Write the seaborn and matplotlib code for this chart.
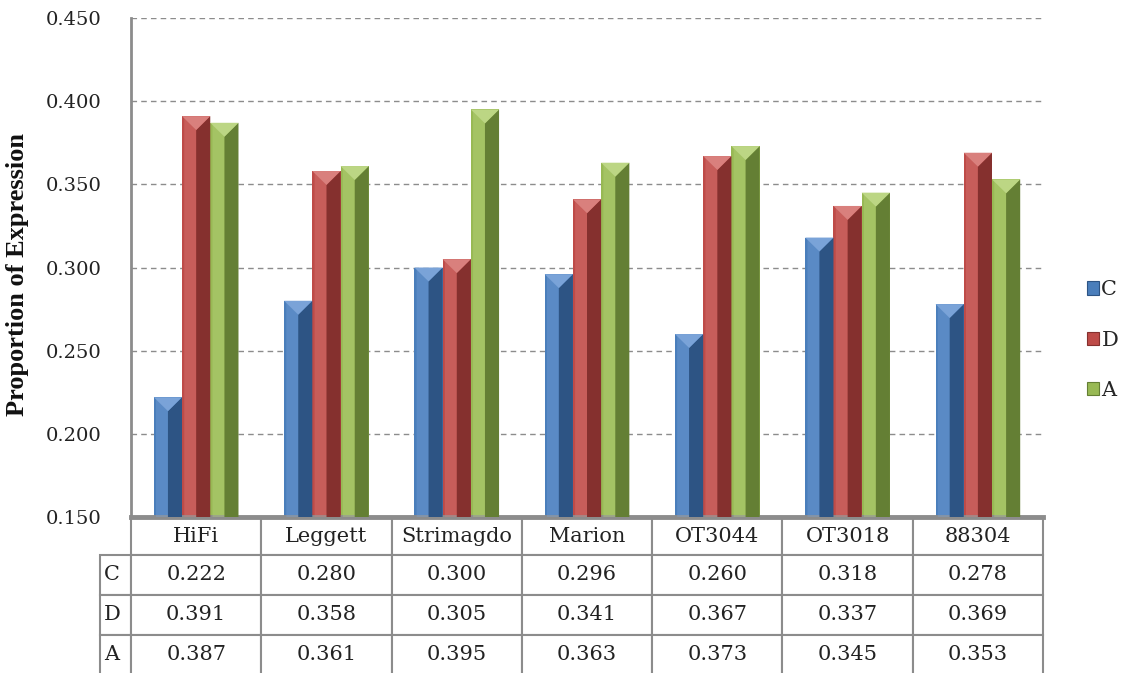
import pandas as pd
import seaborn as sns
import matplotlib
matplotlib.use("Agg")
import matplotlib.pyplot as plt
from matplotlib.patches import Polygon, Patch
from matplotlib.table import Table

# chart data
cultivars = ["HiFi", "Leggett", "Strimagdo", "Marion", "OT3044", "OT3018", "88304"]
series = ["C", "D", "A"]
vals_C = [0.222, 0.280, 0.300, 0.296, 0.260, 0.318, 0.278]
vals_D = [0.391, 0.358, 0.305, 0.341, 0.367, 0.337, 0.369]
vals_A = [0.387, 0.361, 0.395, 0.363, 0.373, 0.345, 0.353]
yticks = [0.150, 0.200, 0.250, 0.300, 0.350, 0.400, 0.450]

base_cols = ["#4a7ebb", "#be4b48", "#98b954"]
dark_cols = ["#2d5484", "#85302e", "#647f34"]
light_cols = ["#7aa3d8", "#d9807d", "#bcd684"]

df = pd.DataFrame({
    "cultivar": cultivars * 3,
    "series": [s for s in series for _ in cultivars],
    "value": vals_C + vals_D + vals_A,
})

sns.set_style("white")
serif = "DejaVu Serif"

fig = plt.figure(figsize=(11.26, 6.73), dpi=100)
W, H = 1126, 673
ax = fig.add_axes([131 / W, 1 - 517 / H, (1043 - 131) / W, (517 - 18) / H])

sns.barplot(data=df, x="cultivar", y="value", hue="series", palette=base_cols,
            width=0.65, saturation=1, ax=ax, legend=False, linewidth=0)

ax.set_ylim(0.15, 0.45)
ax.set_xlim(-0.5, len(cultivars) - 0.5)
ax.set_yticks(yticks)
ax.set_yticklabels([f"{t:.3f}" for t in yticks], fontfamily=serif, fontsize=14, color="#222")
ax.tick_params(axis="y", direction="out", length=9, width=1.5, color="#8c8c8c", pad=12)
ax.tick_params(axis="x", length=0, labelbottom=False)
ax.set_xlabel("")
ax.set_ylabel("")
ax.yaxis.grid(True, linestyle=(0, (4, 3)), color="#8c8c8c", lw=1)
ax.set_axisbelow(True)
for s in ["top", "right"]:
    ax.spines[s].set_visible(False)
ax.spines["left"].set_color("#8c8c8c")
ax.spines["left"].set_linewidth(2)
ax.spines["bottom"].set_color("#8c8c8c")
ax.spines["bottom"].set_linewidth(3.5)

# bevel look on the bars
ylo, yhi = ax.get_ylim()
d = 0.028 * (yhi - ylo)
for cont, dk, lt in zip(ax.containers, dark_cols, light_cols):
    for bar in cont:
        x0, w = bar.get_x(), bar.get_width()
        top = bar.get_y() + bar.get_height()
        xc = x0 + w * 0.5
        ax.add_patch(Polygon([(xc, ylo), (x0 + w, ylo), (x0 + w, top), (xc, top - d)],
                             closed=True, color=dk, lw=0, zorder=3))
        ax.add_patch(Polygon([(x0 + 0.08 * w, ylo), (xc, ylo), (xc, top - d), (x0 + 0.08 * w, top - 0.1 * d)],
                             closed=True, color=lt, alpha=0.35, lw=0, zorder=3))
        ax.add_patch(Polygon([(x0, top), (x0 + w, top), (xc, top - d)],
                             closed=True, color=lt, lw=0, zorder=3))

# data table under the axis (sizes in axes fractions)
aw = 1043 - 131
ah = 517 - 18
lab_w = 31 / aw
colw = 1 / len(cultivars)
hdr_h = 38 / ah
row_h = 40 / ah
tb = Table(ax, bbox=[0, -(hdr_h + 3 * row_h), 1, hdr_h + 3 * row_h])
for j, c in enumerate(cultivars):
    tb.add_cell(0, j, width=colw, height=hdr_h, text=c, loc="center")
for i, (s, vals) in enumerate(zip(series, [vals_C, vals_D, vals_A]), start=1):
    tb.add_cell(i, -1, width=lab_w, height=row_h, text=s, loc="left")
    for j, v in enumerate(vals):
        tb.add_cell(i, j, width=colw, height=row_h, text=f"{v:.3f}", loc="center")
tb.auto_set_font_size(False)
tb.set_fontsize(15)
ax.add_table(tb)
tb.set_clip_on(False)
for (r, c), cell in tb.get_celld().items():
    cell.set_edgecolor("#8c8c8c")
    cell.set_linewidth(1.5)
    cell.get_text().set_fontfamily(serif)
    cell.get_text().set_color("#222")
    if c == -1:
        cell.PAD = 0.12

# y label
fig.text(18 / W, 1 - 275 / H, "Proportion of Expression", rotation=90, ha="center", va="center",
         fontfamily="Liberation Serif", fontweight="bold", fontsize=19, color="#111")

# legend
handles = [Patch(facecolor=c, edgecolor=dk, lw=0.8) for c, dk in zip(base_cols, dark_cols)]
fig.legend(handles, series, loc="center left", bbox_to_anchor=(1068 / W, 1 - 340 / H),
           frameon=False, handlelength=0.6, handleheight=0.6, handletextpad=0.1,
           labelspacing=1.5, prop={"family": serif, "size": 15})

fig.savefig("out.png", dpi=100)
